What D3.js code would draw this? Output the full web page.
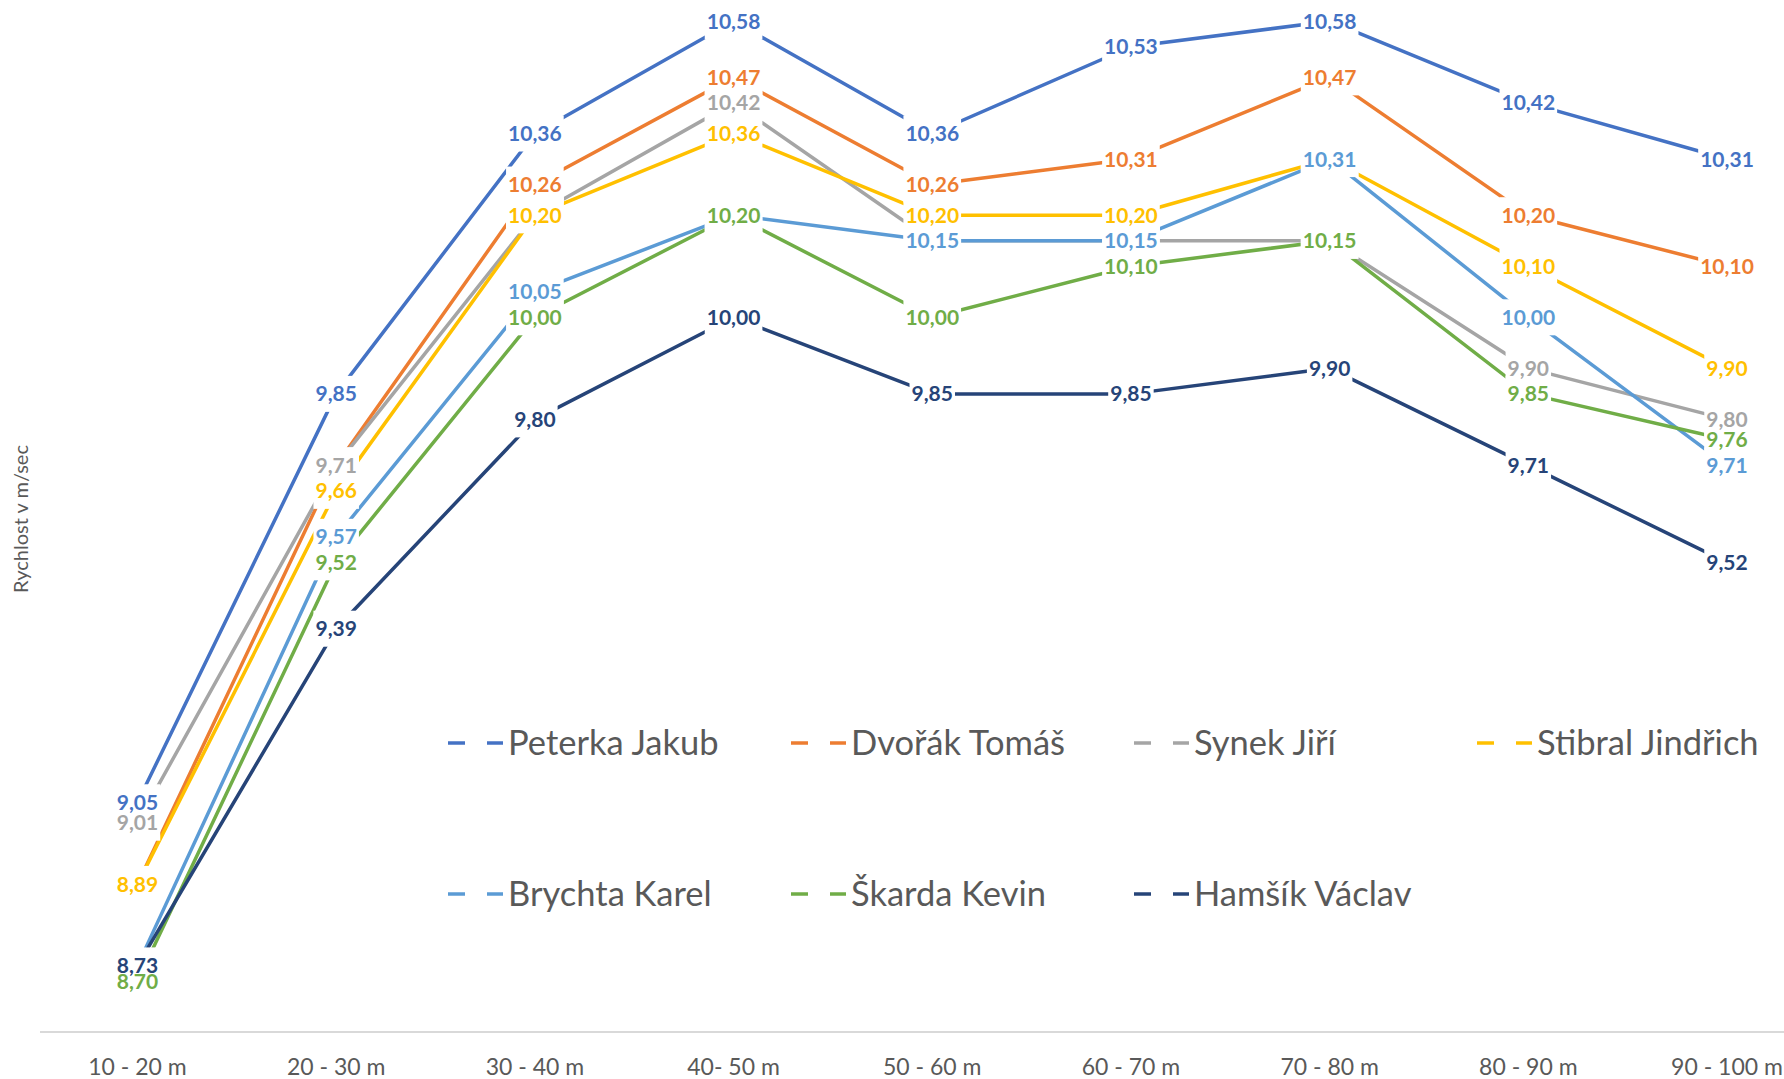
<!DOCTYPE html>
<html>
<head>
<meta charset="utf-8">
<script src="https://cdn.jsdelivr.net/npm/d3@7"></script>
<style>
  body { margin: 0; background: #fff; }
  svg { display: block; font-family: Lato, "Open Sans", sans-serif; }
</style>
</head>
<body>
<svg id="chart" width="1784" height="1079"></svg>
<script>

let categories = ['10 - 20 m', '20 - 30 m', '30 - 40 m', '40- 50 m', '50 - 60 m', '60 - 70 m', '70 - 80 m', '80 - 90 m', '90 - 100 m'];

let names = ['Peterka Jakub', 'Dvořák Tomáš', 'Synek Jiří', 'Stibral Jindřich', 'Brychta Karel', 'Škarda Kevin', 'Hamšík Václav'];
let colors = ['#4472C4', '#ED7D31', '#A5A5A5', '#FFC000', '#5B9BD5', '#70AD47', '#264478'];

let peterka = [9.05, 9.85, 10.36, 10.58, 10.36, 10.53, 10.58, 10.42, 10.31];
let dvorak  = [8.89, 9.71, 10.26, 10.47, 10.26, 10.31, 10.47, 10.20, 10.10];
let synek   = [9.01, 9.71, 10.20, 10.42, 10.15, 10.15, 10.15, 9.90, 9.80];
let stibral = [8.89, 9.66, 10.20, 10.36, 10.20, 10.20, 10.31, 10.10, 9.90];
let brychta = [8.73, 9.57, 10.05, 10.20, 10.15, 10.15, 10.31, 10.00, 9.71];
let skarda  = [8.70, 9.52, 10.00, 10.20, 10.00, 10.10, 10.15, 9.85, 9.76];
let hamsik  = [8.73, 9.39, 9.80, 10.00, 9.85, 9.85, 9.90, 9.71, 9.52];

let yDomain = [8.6, 10.6];

let series = [peterka, dvorak, synek, stibral, brychta, skarda, hamsik]
    .map((values, i) => ({ name: names[i], color: colors[i], values: values }));

let svg = d3.select('#chart');

let x = d3.scalePoint().domain(categories).range([137.5, 1727]);
let y = d3.scaleLinear().domain(yDomain).range([1032, 11]);

const fmt = (v) => v.toFixed(2).replace('.', ',');

// x axis: only the baseline and category names
svg.append('line')
    .attr('x1', 40).attr('x2', 1784)
    .attr('y1', y(yDomain[0])).attr('y2', y(yDomain[0]))
    .attr('stroke', '#D9D9D9')
    .attr('stroke-width', 2);

svg.append('g').selectAll('text')
    .data(categories)
    .join('text')
    .attr('x', (d) => x(d))
    .attr('y', 1075)
    .attr('text-anchor', 'middle')
    .attr('fill', '#595959')
    .attr('font-size', 23)
    .text((d) => d);

svg.append('text')
    .attr('transform', 'translate(28,519) rotate(-90)')
    .attr('text-anchor', 'middle')
    .attr('fill', '#595959')
    .attr('font-size', 20)
    .text('Rychlost v m/sec');

// lines
let line = d3.line()
    .x((d, i) => x(categories[i]))
    .y((d) => y(d));

svg.append('g').selectAll('path')
    .data(series)
    .join('path')
    .attr('d', (s) => line(s.values))
    .attr('fill', 'none')
    .attr('stroke', (s) => s.color)
    .attr('stroke-width', 3.5)
    .attr('stroke-linejoin', 'round');

// data labels: white boxes first (they cut the lines), then the texts.
// a label sitting exactly under a later series' identical label is covered, so skip its text
let points = [];
series.forEach((s, k) => {
    s.values.forEach((v, i) => {
        let covered = series.slice(k + 1).some((o) => o.values[i] === v);
        points.push({ v: v, cat: categories[i], color: s.color, covered: covered });
    });
});

let boxes = svg.append('g');
let texts = svg.append('g').selectAll('text')
    .data(points)
    .join('text')
    .attr('x', (d) => x(d.cat))
    .attr('y', (d) => y(d.v))
    .attr('dy', '0.36em')
    .attr('text-anchor', 'middle')
    .attr('font-size', 21)
    .attr('font-weight', 'bold')
    .attr('fill', (d) => d.color)
    .text((d) => fmt(d.v));

texts.each(function(d) {
    let w = this.getComputedTextLength();
    boxes.append('rect')
        .attr('x', x(d.cat) - w / 2 - 2)
        .attr('y', y(d.v) - 18)
        .attr('width', w + 4)
        .attr('height', 36)
        .attr('fill', '#fff');
});

texts.filter((d) => d.covered).remove();

// legend
let legend = svg.append('g').selectAll('g')
    .data(series)
    .join('g')
    .attr('transform', (s, i) => `translate(${448 + (i % 4) * 343},${i < 4 ? 743 : 894})`);

legend.append('line')
    .attr('x1', 0).attr('x2', 55)
    .attr('stroke', (s) => s.color)
    .attr('stroke-width', 3.5);

legend.append('rect')
    .attr('x', 17).attr('y', -6)
    .attr('width', 22).attr('height', 12)
    .attr('fill', '#fff');

legend.append('text')
    .attr('x', 60)
    .attr('dy', '0.36em')
    .attr('fill', '#595959')
    .attr('font-size', 34.5)
    .text((s) => s.name);

</script>
</body>
</html>
